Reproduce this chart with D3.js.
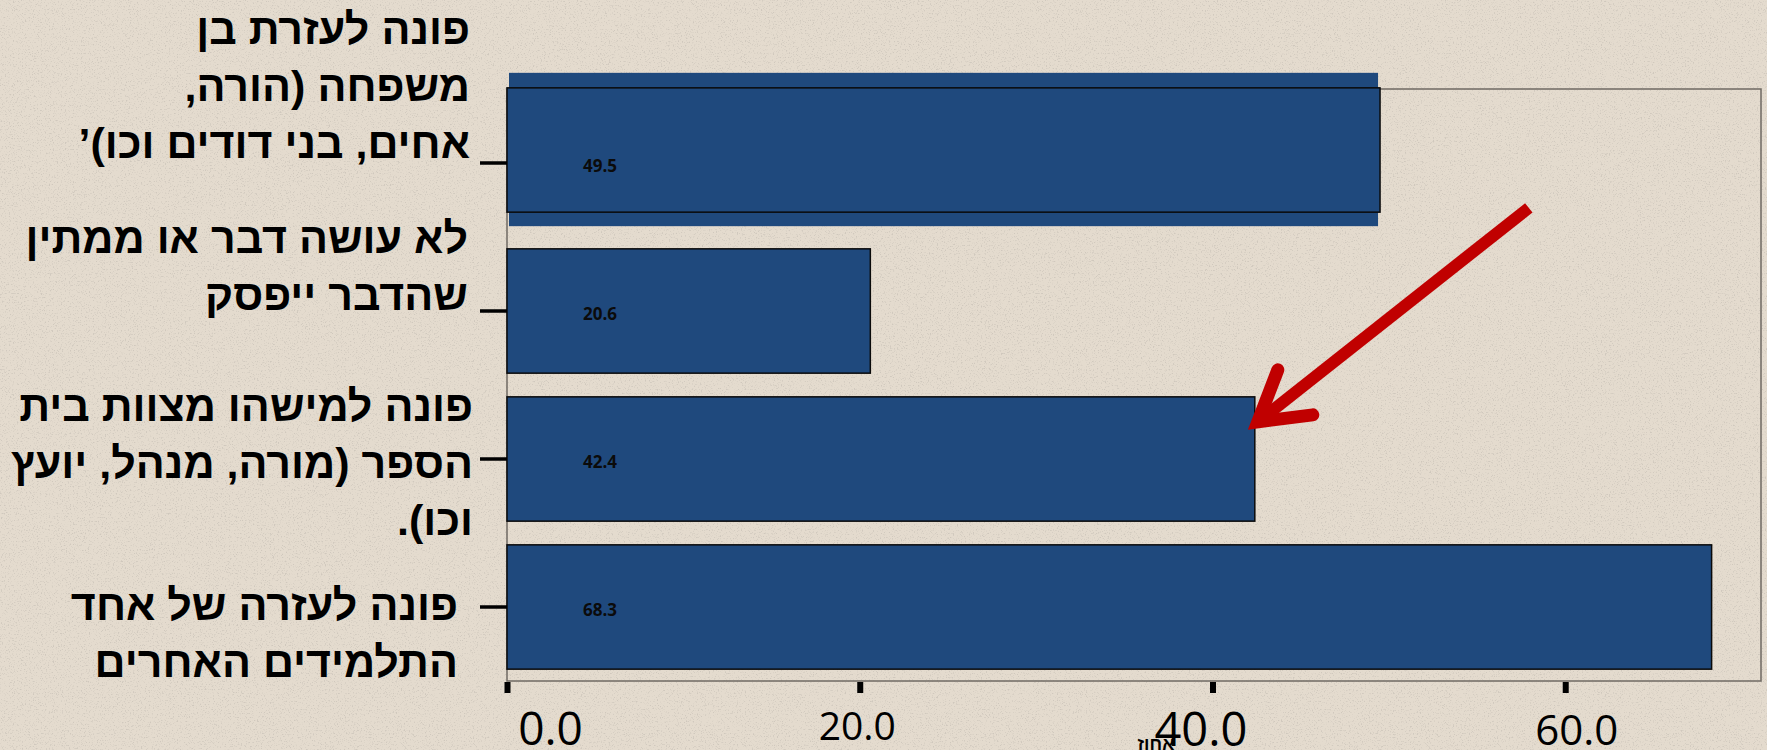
<!DOCTYPE html>
<html>
<head>
<meta charset="utf-8">
<script src="https://cdn.jsdelivr.net/npm/d3@7"></script>
<style>
  body { margin: 0; background: #e4dbce; }
  svg { display: block; }
</style>
</head>
<body>
<script>
// category labels, one entry per bar, split the way the slide wraps them
const categoryLines = [
  ["פונה לעזרת בן", "משפחה (הורה,", "אחים, בני דודים וכו)’"],
  ["לא עושה דבר או ממתין", "שהדבר ייפסק"],
  ["פונה למישהו מצוות בית", "הספר (מורה, מנהל, יועץ", "וכו)."],
  ["פונה לעזרה של אחד", "התלמידים האחרים"]
];
const categories = categoryLines.map(d => d.join(" "));
const values = [49.5, 20.6, 42.4, 68.3];
const xTicks = [0, 20, 40, 60];
const xMax = 71.1;
const axisTitle = "אחוז";

var W = 1767, H = 750;
var barColor = "#1f497d";
var hebFont = "'Liberation Sans', 'DejaVu Sans', Arial, sans-serif";
var numFont = "'Open Sans', 'Noto Sans', sans-serif";

var svg = d3.select("body").append("svg")
  .attr("width", W)
  .attr("height", H);

// paper speckle
var defs = svg.append("defs");
var f = defs.append("filter").attr("id", "noise")
  .attr("x", 0).attr("y", 0).attr("width", "100%").attr("height", "100%");
f.append("feTurbulence")
  .attr("type", "fractalNoise")
  .attr("baseFrequency", 0.75)
  .attr("numOctaves", 2)
  .attr("seed", 7);
f.append("feColorMatrix")
  .attr("type", "matrix")
  .attr("values", "0 0 0 0 0.45  0 0 0 0 0.42  0 0 0 0 0.38  5 0 0 0 -2.8");

svg.append("rect")
  .attr("width", W).attr("height", H)
  .attr("fill", "#e4dbce");
svg.append("rect")
  .attr("width", W).attr("height", H)
  .attr("filter", "url(#noise)")
  .attr("opacity", 0.4);

var x = d3.scaleLinear()
  .domain([0, xMax])
  .range([507, 1761]);

var y = d3.scaleBand()
  .domain(categories)
  .range([89, 681])
  .paddingInner(0.16)
  .paddingOuter(0.08);

// plot area frame
svg.append("rect")
  .attr("x", x(0))
  .attr("y", y.range()[0])
  .attr("width", x.range()[1] - x(0))
  .attr("height", y.range()[1] - y.range()[0])
  .attr("fill", "none")
  .attr("stroke", "#6f6a63")
  .attr("stroke-width", 1.5);

// the first bar was pasted over with a taller highlight block
svg.append("rect")
  .attr("x", x(0) + 2)
  .attr("y", y(categories[0]) - 28)
  .attr("width", x(values[0]) - x(0) - 4)
  .attr("height", y.bandwidth() + 29)
  .attr("fill", barColor);

svg.selectAll("rect.bar")
  .data(values)
  .enter().append("rect")
  .attr("class", "bar")
  .attr("x", x(0))
  .attr("y", (d, i) => y(categories[i]) - (i === 0 ? 13 : 0))
  .attr("width", d => x(d) - x(0))
  .attr("height", y.bandwidth())
  .attr("fill", barColor)
  .attr("stroke", "#0a0a0a")
  .attr("stroke-width", 1.5);

svg.selectAll("text.val")
  .data(values)
  .enter().append("text")
  .attr("class", "val")
  .attr("x", x(0) + 76)
  .attr("y", (d, i) => y(categories[i]) + y.bandwidth() / 2 + 4)
  .attr("dominant-baseline", "middle")
  .attr("font-family", numFont)
  .attr("font-weight", "bold")
  .attr("font-size", "17px")
  .attr("fill", "#0b0b0b")
  .text(d => d.toFixed(1));

// category axis: only the short tick marks
var yAxis = svg.append("g")
  .attr("transform", "translate(" + x(0) + ",0)")
  .call(d3.axisLeft(y).tickSize(27).tickFormat(""));
yAxis.select(".domain").remove();
yAxis.selectAll(".tick line")
  .attr("stroke", "#000")
  .attr("stroke-width", 3.5);

// category labels, right aligned, hebrew (each text box sits a little differently)
var firstBase = [44, 253, 421, 620];
var rightEdge = [470, 468, 473, 458];
var lineH = 57;
var lab = svg.selectAll("g.catlab")
  .data(categoryLines)
  .enter().append("g")
  .attr("class", "catlab");
lab.selectAll("text")
  .data((d, i) => d.map(t => ({ t: t, i: i })))
  .enter().append("text")
  .attr("x", d => rightEdge[d.i])
  .attr("y", (d, j) => firstBase[d.i] + j * lineH)
  .attr("direction", "rtl")
  .attr("text-anchor", "start")
  .attr("font-family", hebFont)
  .attr("font-weight", "bold")
  .attr("font-size", "43px")
  .attr("fill", "#000")
  .text(d => d.t);

// value axis
var tickSizes = [46, 39, 47, 42];
var tickBase = [745, 740, 746, 745];
var tickDx = [43, -3, -12, 11];
var xAxis = svg.append("g")
  .attr("transform", "translate(0,682)")
  .call(d3.axisBottom(x).tickValues(xTicks).tickSize(11).tickFormat(d3.format(".1f")));
xAxis.select(".domain").remove();
xAxis.selectAll(".tick line")
  .attr("stroke", "#000")
  .attr("stroke-width", 6);
xAxis.selectAll(".tick text")
  .attr("dy", null)
  .attr("y", (d, i) => tickBase[i] - 682)
  .attr("dx", (d, i) => tickDx[i])
  .attr("font-family", numFont)
  .attr("font-size", (d, i) => tickSizes[i] + "px")
  .attr("fill", "#000");

svg.append("text")
  .attr("x", 1156)
  .attr("y", 750)
  .attr("text-anchor", "middle")
  .attr("direction", "rtl")
  .attr("font-family", hebFont)
  .attr("font-weight", "bold")
  .attr("font-size", "18px")
  .attr("fill", "#000")
  .text(axisTitle);

// red arrow pointing at the school-staff bar
var tip = [x(values[2]) + 3, y(categories[2]) + 25];
svg.append("line")
  .attr("x1", tip[0] + 271).attr("y1", tip[1] - 214)
  .attr("x2", tip[0] + 4).attr("y2", tip[1] - 3)
  .attr("stroke", "#c00000")
  .attr("stroke-width", 12);
svg.append("path")
  .attr("d", d3.line()([[tip[0] + 20, tip[1] - 52], tip, [tip[0] + 55, tip[1] - 7]]))
  .attr("fill", "none")
  .attr("stroke", "#c00000")
  .attr("stroke-width", 13)
  .attr("stroke-linecap", "round")
  .attr("stroke-linejoin", "miter")
  .attr("stroke-miterlimit", 10);
</script>
</body>
</html>
